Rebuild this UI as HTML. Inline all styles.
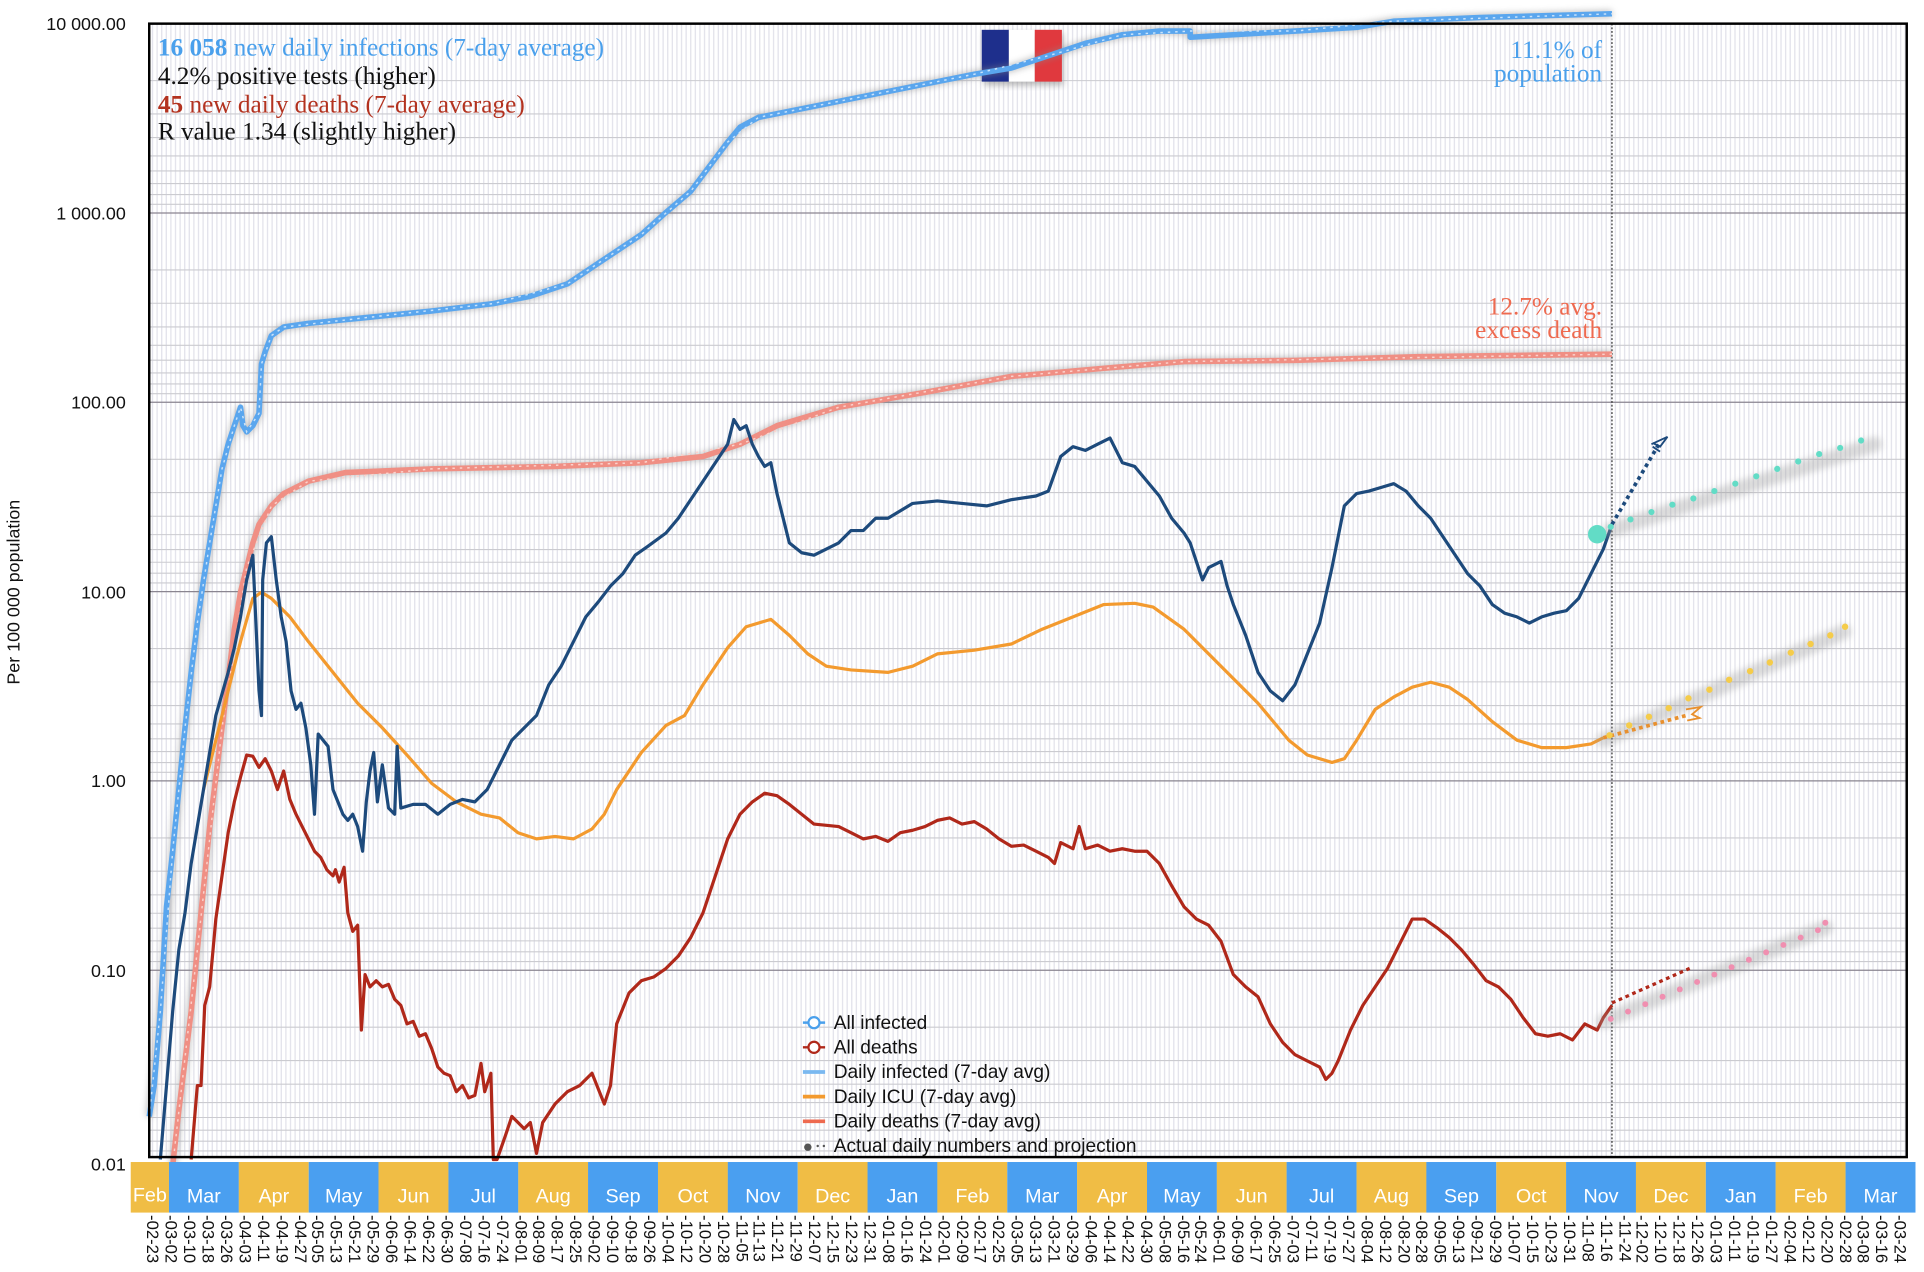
<!DOCTYPE html>
<html><head><meta charset="utf-8"><style>
html,body{margin:0;padding:0;background:#fff;}
svg{display:block;}
.ax{font-family:"Liberation Sans",sans-serif;font-size:14.5px;fill:#111;}
.dt{font-family:"Liberation Sans",sans-serif;font-size:13.5px;fill:#111;}
.mo{font-family:"Liberation Sans",sans-serif;font-size:16px;fill:#fff;text-anchor:middle;}
.sr{font-family:"Liberation Serif",serif;font-size:20.5px;}
.lg{font-family:"Liberation Sans",sans-serif;font-size:15.5px;fill:#111;}
</style></head><body>
<svg width="1924" height="1272" viewBox="0 0 1560 1031" xmlns="http://www.w3.org/2000/svg">
<defs>
<pattern id="vg" width="3.73" height="10" patternUnits="userSpaceOnUse"><rect width="3.73" height="10" fill="#fff"/><rect width="1.1" height="10" fill="#e4e4ec"/></pattern>
<filter id="sh" x="-10%" y="-10%" width="120%" height="120%"><feGaussianBlur stdDeviation="2.5"/></filter>
</defs>
<rect x="121" y="19" width="1425" height="919" fill="url(#vg)"/>
<g stroke="#cbcbd0" stroke-width="0.9">
<line x1="121" x2="1546" y1="65.2" y2="65.2"/><line x1="121" x2="1546" y1="92.2" y2="92.2"/><line x1="121" x2="1546" y1="111.4" y2="111.4"/><line x1="121" x2="1546" y1="126.3" y2="126.3"/><line x1="121" x2="1546" y1="138.4" y2="138.4"/><line x1="121" x2="1546" y1="148.7" y2="148.7"/><line x1="121" x2="1546" y1="157.6" y2="157.6"/><line x1="121" x2="1546" y1="165.5" y2="165.5"/>
<line x1="121" x2="1546" y1="218.7" y2="218.7"/><line x1="121" x2="1546" y1="245.7" y2="245.7"/><line x1="121" x2="1546" y1="264.9" y2="264.9"/><line x1="121" x2="1546" y1="279.8" y2="279.8"/><line x1="121" x2="1546" y1="291.9" y2="291.9"/><line x1="121" x2="1546" y1="302.2" y2="302.2"/><line x1="121" x2="1546" y1="311.1" y2="311.1"/><line x1="121" x2="1546" y1="319" y2="319"/>
<line x1="121" x2="1546" y1="372.2" y2="372.2"/><line x1="121" x2="1546" y1="399.2" y2="399.2"/><line x1="121" x2="1546" y1="418.4" y2="418.4"/><line x1="121" x2="1546" y1="433.3" y2="433.3"/><line x1="121" x2="1546" y1="445.4" y2="445.4"/><line x1="121" x2="1546" y1="455.7" y2="455.7"/><line x1="121" x2="1546" y1="464.6" y2="464.6"/><line x1="121" x2="1546" y1="472.5" y2="472.5"/>
<line x1="121" x2="1546" y1="525.7" y2="525.7"/><line x1="121" x2="1546" y1="552.7" y2="552.7"/><line x1="121" x2="1546" y1="571.9" y2="571.9"/><line x1="121" x2="1546" y1="586.8" y2="586.8"/><line x1="121" x2="1546" y1="598.9" y2="598.9"/><line x1="121" x2="1546" y1="609.2" y2="609.2"/><line x1="121" x2="1546" y1="618.1" y2="618.1"/><line x1="121" x2="1546" y1="626" y2="626"/>
<line x1="121" x2="1546" y1="679.2" y2="679.2"/><line x1="121" x2="1546" y1="706.2" y2="706.2"/><line x1="121" x2="1546" y1="725.4" y2="725.4"/><line x1="121" x2="1546" y1="740.3" y2="740.3"/><line x1="121" x2="1546" y1="752.4" y2="752.4"/><line x1="121" x2="1546" y1="762.7" y2="762.7"/><line x1="121" x2="1546" y1="771.6" y2="771.6"/><line x1="121" x2="1546" y1="779.5" y2="779.5"/>
<line x1="121" x2="1546" y1="832.7" y2="832.7"/><line x1="121" x2="1546" y1="859.7" y2="859.7"/><line x1="121" x2="1546" y1="878.9" y2="878.9"/><line x1="121" x2="1546" y1="893.8" y2="893.8"/><line x1="121" x2="1546" y1="905.9" y2="905.9"/><line x1="121" x2="1546" y1="916.2" y2="916.2"/><line x1="121" x2="1546" y1="925.1" y2="925.1"/><line x1="121" x2="1546" y1="933" y2="933"/>
</g>
<g stroke="#8a8590" stroke-width="1">
<line x1="121" x2="1546" y1="172.5" y2="172.5"/><line x1="121" x2="1546" y1="326" y2="326"/><line x1="121" x2="1546" y1="479.5" y2="479.5"/><line x1="121" x2="1546" y1="633" y2="633"/><line x1="121" x2="1546" y1="786.5" y2="786.5"/>
</g>
<line x1="1307" y1="19" x2="1307" y2="938" stroke="#333" stroke-width="1" stroke-dasharray="1.5,1.5"/>

<g class="ax" text-anchor="end">
<text x="102" y="24">10 000.00</text><text x="102" y="178">1 000.00</text><text x="102" y="331">100.00</text><text x="102" y="485">10.00</text><text x="102" y="638">1.00</text><text x="102" y="792">0.10</text><text x="102" y="949">0.01</text>
</g>
<text class="ax" transform="translate(16,480) rotate(-90)" text-anchor="middle" font-size="13.5">Per 100 000 population</text>

<text class="sr" x="128" y="45" fill="#4aa0ec"><tspan font-weight="bold">16 058</tspan> new daily infections (7-day average)</text>
<text class="sr" x="128" y="68" fill="#111">4.2% positive tests (higher)</text>
<text class="sr" x="128" y="91" fill="#b3321f"><tspan font-weight="bold">45</tspan> new daily deaths (7-day average)</text>
<text class="sr" x="128" y="113" fill="#111">R value 1.34 (slightly higher)</text>
<text class="sr" x="1299" y="47" fill="#4aa0ec" text-anchor="end" font-size="18">11.1% of</text>
<text class="sr" x="1299" y="66" fill="#4aa0ec" text-anchor="end" font-size="18">population</text>
<text class="sr" x="1299" y="255" fill="#ee6a50" text-anchor="end" font-size="18">12.7% avg.</text>
<text class="sr" x="1299" y="274" fill="#ee6a50" text-anchor="end" font-size="18">excess death</text>

<rect x="798" y="27" width="64" height="42" fill="#888" filter="url(#sh)" opacity="0.6"/>
<rect x="796" y="24" width="22" height="42" fill="#1e2f8c"/><rect x="818" y="24" width="21" height="42" fill="#fff"/><rect x="839" y="24" width="22" height="42" fill="#e0393e"/>

<polyline fill="none" stroke="#888" stroke-width="6" opacity="0.5" filter="url(#sh)" points="121,905 130,820 140,690 150,590 160,505 170,440 180,380 190,345 195,330 197,345 200,350 205,345 210,335 212,295 215,285 220,272 230,265 250,262 300,257 350,252 400,246 430,240 460,230 490,210 520,190 540,172 560,155 575,135 590,115 600,103 615,95 640,90 700,78 750,68 790,60 820,55 850,45 880,35 910,28 940,25 965,25 965,30 1000,28 1050,25 1100,22 1130,17 1200,14 1307,11"/>
<polyline fill="none" stroke="#5aa6ee" stroke-width="4.5" stroke-linejoin="round" points="121,905 125,880 130,820 135,735 140,690 145,640 150,590 155,545 160,505 165,470 170,440 175,410 180,380 185,360 190,345 195,330 197,345 200,350 205,345 210,335 212,295 215,285 220,272 230,265 250,262 270,260 300,257 350,252 400,246 430,240 460,230 490,210 520,190 540,172 560,155 575,135 590,115 600,103 615,95 640,90 700,78 750,68 790,60 820,55 850,45 880,35 910,28 940,25 965,25 965,30 1000,28 1050,25 1100,22 1130,17 1200,14 1307,11"/>
<polyline fill="none" stroke="#c9e3fb" stroke-width="1.2" stroke-dasharray="2,4" points="121,905 130,820 140,690 150,590 160,505 170,440 180,380 190,345 195,330 200,350 210,335 212,295 220,272 230,265 300,257 400,246 460,230 520,190 560,155 590,115 615,95 700,78 790,60 850,45 910,28 965,25 1050,25 1130,17 1307,11"/>

<polyline fill="none" stroke="#888" stroke-width="6" opacity="0.5" filter="url(#sh)" points="140,945 150,860 160,770 170,670 180,590 190,510 200,460 210,425 220,410 230,400 250,390 280,383 350,380 450,378 520,375 570,370 600,360 630,345 680,330 750,318 820,305 900,298 960,293 1050,292 1150,289 1307,287"/>
<polyline fill="none" stroke="#f08f84" stroke-width="4.5" stroke-linejoin="round" points="140,945 145,900 150,860 155,820 160,770 165,720 170,670 175,630 180,590 185,550 190,510 195,480 200,460 205,440 210,425 220,410 230,400 250,390 280,383 350,380 450,378 520,375 570,370 600,360 630,345 680,330 750,318 820,305 900,298 960,293 1050,292 1150,289 1307,287"/>
<polyline fill="none" stroke="#fbd2cc" stroke-width="1.2" stroke-dasharray="2,4" points="140,945 160,770 180,590 200,460 220,410 250,390 350,380 520,375 600,360 680,330 820,305 960,293 1307,287"/>

<polyline fill="none" stroke="#f39a2e" stroke-width="2.6" stroke-linejoin="round" points="165,640 175,600 185,560 195,520 205,485 212,480 220,485 235,500 250,520 270,545 290,570 310,590 330,612 350,635 370,650 390,660 405,663 420,675 435,680 450,678 465,680 480,672 490,660 500,640 520,610 540,588 555,580 570,555 590,525 605,508 625,502 640,515 655,530 670,540 690,543 720,545 740,540 760,530 790,527 820,522 845,510 870,500 895,490 920,489 935,492 960,510 990,540 1020,570 1045,600 1060,612 1080,618 1090,615 1100,600 1115,575 1130,565 1145,557 1160,553 1175,557 1190,567 1210,585 1230,600 1250,606 1270,606 1290,603 1300,598"/>

<polyline fill="none" stroke="#1d4a7c" stroke-width="2.6" stroke-linejoin="round" points="130,940 135,880 140,820 145,770 150,740 155,700 165,640 175,580 185,545 190,525 195,500 200,470 205,450 210,560 212,580 213,470 216,440 220,435 224,470 228,500 232,520 236,560 240,575 244,570 248,590 252,620 255,660 258,595 262,600 266,605 270,640 274,650 278,660 282,665 286,660 290,670 294,690 297,650 300,625 303,610 306,650 310,620 315,655 320,660 322,605 325,655 335,652 345,652 355,660 365,652 375,648 385,650 395,640 405,620 415,600 425,590 435,580 445,555 455,540 465,520 475,500 485,488 495,475 505,465 515,450 525,443 540,432 550,420 560,405 570,390 580,375 590,360 595,340 600,348 605,345 610,360 615,370 620,378 625,375 630,400 635,420 640,440 650,448 660,450 670,445 680,440 690,430 700,430 710,420 720,420 740,408 760,406 780,408 800,410 820,405 840,402 850,398 860,370 870,362 880,365 890,360 900,355 910,375 920,378 930,390 940,402 950,420 960,432 965,440 970,455 975,470 980,460 990,455 995,475 1000,490 1010,515 1020,545 1030,560 1040,568 1050,555 1060,530 1070,505 1080,460 1090,410 1100,400 1110,398 1120,395 1130,392 1140,398 1150,410 1160,420 1170,435 1180,450 1190,465 1200,475 1210,490 1220,497 1230,500 1240,505 1250,500 1260,497 1270,495 1280,485 1290,465 1300,445 1307,425"/>

<polyline fill="none" stroke="#b0281a" stroke-width="2.6" stroke-linejoin="round" points="155,940 160,880 163,880 166,815 170,800 175,745 180,710 185,675 190,650 195,630 200,612 205,613 210,622 215,615 220,625 225,640 230,625 235,648 240,660 245,670 250,680 255,690 260,695 265,705 270,710 272,705 275,715 279,703 282,740 286,755 290,750 293,835 296,790 300,800 305,795 310,800 315,798 320,810 325,815 330,830 335,828 340,840 345,838 350,850 355,865 360,870 365,872 370,885 375,880 380,890 385,888 390,862 393,885 398,870 400,940 403,940 410,920 415,905 420,910 425,915 430,910 435,935 440,910 450,895 460,885 470,880 480,870 490,895 495,880 500,830 510,805 520,795 530,792 540,785 550,775 560,760 570,740 580,710 590,680 600,660 610,650 620,643 630,645 640,652 650,660 660,668 680,670 690,675 700,680 710,678 720,682 730,675 740,673 750,670 760,665 770,663 780,668 790,666 800,672 810,680 820,686 830,685 840,690 850,695 855,700 860,683 870,688 875,670 880,688 890,685 900,690 910,688 920,690 930,690 940,700 950,718 960,735 970,745 980,750 990,763 1000,790 1010,800 1020,808 1030,830 1040,845 1050,855 1060,860 1070,865 1075,875 1080,870 1085,860 1095,835 1105,815 1115,800 1125,785 1135,765 1145,745 1155,745 1165,752 1175,760 1185,770 1195,782 1205,795 1215,800 1225,810 1235,825 1245,838 1255,840 1265,838 1275,843 1285,830 1295,835 1300,825 1307,815"/>

<g filter="url(#sh)" opacity="0.35" stroke="#999" stroke-width="12" stroke-linecap="round">
<line x1="1305" y1="430" x2="1520" y2="360"/><line x1="1300" y1="600" x2="1495" y2="512"/><line x1="1300" y1="828" x2="1480" y2="752"/>
</g>
<circle cx="1295" cy="433" r="7.5" fill="#62dcc6"/>
<line x1="1307" y1="425" x2="1345" y2="360" stroke="#1d4a7c" stroke-width="3" stroke-dasharray="3,3"/>
<path d="M1339 360 l13 -6 l-6 8 l-6 -3 M1340 362 l6 4" stroke="#1d4a7c" stroke-width="1.5" fill="none"/>
<g fill="#62dcc6">
<circle cx="1306" cy="427" r="2.5"/><circle cx="1322" cy="421" r="2.5"/><circle cx="1339" cy="415" r="2.5"/><circle cx="1356" cy="409" r="2.5"/><circle cx="1373" cy="404" r="2.5"/><circle cx="1390" cy="398" r="2.5"/><circle cx="1407" cy="392" r="2.5"/><circle cx="1424" cy="386" r="2.5"/><circle cx="1441" cy="380" r="2.5"/><circle cx="1458" cy="374" r="2.5"/><circle cx="1475" cy="368" r="2.5"/><circle cx="1492" cy="363" r="2.5"/><circle cx="1509" cy="357" r="2.5"/>
</g>
<line x1="1300" y1="598" x2="1367" y2="580" stroke="#e8902e" stroke-width="3" stroke-dasharray="3,3"/>
<path d="M1367 575 l12 -2 l-7 6 l6 3 l-10 2" stroke="#e8902e" stroke-width="1.5" fill="none"/>
<g fill="#f5cc4a">
<circle cx="1305" cy="596" r="2.6"/><circle cx="1321" cy="588" r="2.6"/><circle cx="1337" cy="581" r="2.6"/><circle cx="1353" cy="574" r="2.6"/><circle cx="1369" cy="566" r="2.6"/><circle cx="1386" cy="559" r="2.6"/><circle cx="1402" cy="551" r="2.6"/><circle cx="1419" cy="544" r="2.6"/><circle cx="1435" cy="537" r="2.6"/><circle cx="1452" cy="529" r="2.6"/><circle cx="1468" cy="522" r="2.6"/><circle cx="1484" cy="515" r="2.6"/><circle cx="1496" cy="508" r="2.6"/>
</g>
<line x1="1307" y1="813" x2="1370" y2="785" stroke="#b0281a" stroke-width="2.6" stroke-dasharray="3,3"/>
<g fill="#f08fb0">
<circle cx="1306" cy="826" r="2.4"/><circle cx="1320" cy="820" r="2.4"/><circle cx="1334" cy="814" r="2.4"/><circle cx="1348" cy="808" r="2.4"/><circle cx="1362" cy="802" r="2.4"/><circle cx="1376" cy="796" r="2.4"/><circle cx="1390" cy="790" r="2.4"/><circle cx="1404" cy="784" r="2.4"/><circle cx="1418" cy="778" r="2.4"/><circle cx="1432" cy="772" r="2.4"/><circle cx="1446" cy="766" r="2.4"/><circle cx="1460" cy="760" r="2.4"/><circle cx="1474" cy="754" r="2.4"/><circle cx="1480" cy="748" r="2.4"/>
</g>

<g>
<line x1="651" y1="829" x2="669" y2="829" stroke="#4aa0ec" stroke-width="2"/><circle cx="660" cy="829" r="4.5" fill="#fff" stroke="#4aa0ec" stroke-width="1.8"/>
<line x1="651" y1="849" x2="669" y2="849" stroke="#b0281a" stroke-width="2"/><circle cx="660" cy="849" r="4.5" fill="#fff" stroke="#b0281a" stroke-width="1.8"/>
<line x1="651" y1="869" x2="669" y2="869" stroke="#7ab8f0" stroke-width="3"/>
<line x1="651" y1="889" x2="669" y2="889" stroke="#f39a2e" stroke-width="3"/>
<line x1="651" y1="909" x2="669" y2="909" stroke="#ee6a50" stroke-width="3"/>
<circle cx="655" cy="930" r="3" fill="#555"/><circle cx="663" cy="929" r="1" fill="#555"/><circle cx="668" cy="929" r="1" fill="#555"/>
<text class="lg" x="676" y="834">All infected</text>
<text class="lg" x="676" y="854">All deaths</text>
<text class="lg" x="676" y="874">Daily infected (7-day avg)</text>
<text class="lg" x="676" y="894">Daily ICU (7-day avg)</text>
<text class="lg" x="676" y="914">Daily deaths (7-day avg)</text>
<text class="lg" x="676" y="934">Actual daily numbers and projection</text>
</g>

<rect x="121" y="19" width="1425" height="919" fill="none" stroke="#000" stroke-width="2"/>

<g>
<rect x="106" y="942" width="31" height="41" fill="#f0bd45"/>
<rect x="137" y="942" width="56.7" height="41" fill="#4a9ff0"/><rect x="193.6" y="942" width="56.7" height="41" fill="#f0bd45"/><rect x="250.3" y="942" width="56.7" height="41" fill="#4a9ff0"/><rect x="306.9" y="942" width="56.7" height="41" fill="#f0bd45"/><rect x="363.6" y="942" width="56.7" height="41" fill="#4a9ff0"/><rect x="420.2" y="942" width="56.7" height="41" fill="#f0bd45"/><rect x="476.8" y="942" width="56.7" height="41" fill="#4a9ff0"/><rect x="533.5" y="942" width="56.7" height="41" fill="#f0bd45"/><rect x="590.1" y="942" width="56.7" height="41" fill="#4a9ff0"/><rect x="646.8" y="942" width="56.7" height="41" fill="#f0bd45"/><rect x="703.4" y="942" width="56.7" height="41" fill="#4a9ff0"/><rect x="760" y="942" width="56.7" height="41" fill="#f0bd45"/><rect x="816.7" y="942" width="56.7" height="41" fill="#4a9ff0"/><rect x="873.3" y="942" width="56.7" height="41" fill="#f0bd45"/><rect x="930" y="942" width="56.7" height="41" fill="#4a9ff0"/><rect x="986.6" y="942" width="56.7" height="41" fill="#f0bd45"/><rect x="1043.2" y="942" width="56.7" height="41" fill="#4a9ff0"/><rect x="1099.9" y="942" width="56.7" height="41" fill="#f0bd45"/><rect x="1156.5" y="942" width="56.7" height="41" fill="#4a9ff0"/><rect x="1213.2" y="942" width="56.7" height="41" fill="#f0bd45"/><rect x="1269.8" y="942" width="56.7" height="41" fill="#4a9ff0"/><rect x="1326.4" y="942" width="56.7" height="41" fill="#f0bd45"/><rect x="1383.1" y="942" width="56.7" height="41" fill="#4a9ff0"/><rect x="1439.7" y="942" width="56.7" height="41" fill="#f0bd45"/><rect x="1496.4" y="942" width="56.7" height="41" fill="#4a9ff0"/>
<text class="mo" x="121.5" y="974" font-size="11">Feb</text>
<text class="mo" x="165.3" y="975">Mar</text><text class="mo" x="222" y="975">Apr</text><text class="mo" x="278.6" y="975">May</text><text class="mo" x="335.3" y="975">Jun</text><text class="mo" x="391.9" y="975">Jul</text><text class="mo" x="448.5" y="975">Aug</text><text class="mo" x="505.2" y="975">Sep</text><text class="mo" x="561.8" y="975">Oct</text><text class="mo" x="618.5" y="975">Nov</text><text class="mo" x="675.1" y="975">Dec</text><text class="mo" x="731.7" y="975">Jan</text><text class="mo" x="788.4" y="975">Feb</text><text class="mo" x="845" y="975">Mar</text><text class="mo" x="901.7" y="975">Apr</text><text class="mo" x="958.3" y="975">May</text><text class="mo" x="1014.9" y="975">Jun</text><text class="mo" x="1071.6" y="975">Jul</text><text class="mo" x="1128.2" y="975">Aug</text><text class="mo" x="1184.9" y="975">Sep</text><text class="mo" x="1241.5" y="975">Oct</text><text class="mo" x="1298.1" y="975">Nov</text><text class="mo" x="1354.8" y="975">Dec</text><text class="mo" x="1411.4" y="975">Jan</text><text class="mo" x="1468.1" y="975">Feb</text><text class="mo" x="1524.7" y="975">Mar</text>
</g>

<g class="dt">
<text transform="translate(119,985) rotate(90)">-02-23</text><text transform="translate(134,985) rotate(90)">-03-02</text><text transform="translate(149,985) rotate(90)">-03-10</text><text transform="translate(164,985) rotate(90)">-03-18</text><text transform="translate(179,985) rotate(90)">-03-26</text><text transform="translate(194,985) rotate(90)">-04-03</text><text transform="translate(209,985) rotate(90)">-04-11</text><text transform="translate(224,985) rotate(90)">-04-19</text><text transform="translate(239,985) rotate(90)">-04-27</text><text transform="translate(253,985) rotate(90)">-05-05</text><text transform="translate(268,985) rotate(90)">-05-13</text><text transform="translate(283,985) rotate(90)">-05-21</text><text transform="translate(298,985) rotate(90)">-05-29</text><text transform="translate(313,985) rotate(90)">-06-06</text><text transform="translate(328,985) rotate(90)">-06-14</text><text transform="translate(343,985) rotate(90)">-06-22</text><text transform="translate(358,985) rotate(90)">-06-30</text><text transform="translate(373,985) rotate(90)">-07-08</text><text transform="translate(388,985) rotate(90)">-07-16</text><text transform="translate(403,985) rotate(90)">-07-24</text><text transform="translate(418,985) rotate(90)">-08-01</text><text transform="translate(432,985) rotate(90)">-08-09</text><text transform="translate(447,985) rotate(90)">-08-17</text><text transform="translate(462,985) rotate(90)">-08-25</text><text transform="translate(477,985) rotate(90)">-09-02</text><text transform="translate(492,985) rotate(90)">-09-10</text><text transform="translate(507,985) rotate(90)">-09-18</text><text transform="translate(522,985) rotate(90)">-09-26</text><text transform="translate(537,985) rotate(90)">-10-04</text><text transform="translate(552,985) rotate(90)">-10-12</text><text transform="translate(567,985) rotate(90)">-10-20</text><text transform="translate(582,985) rotate(90)">-10-28</text><text transform="translate(597,985) rotate(90)">-11-05</text><text transform="translate(611,985) rotate(90)">-11-13</text><text transform="translate(626,985) rotate(90)">-11-21</text><text transform="translate(641,985) rotate(90)">-11-29</text><text transform="translate(656,985) rotate(90)">-12-07</text><text transform="translate(671,985) rotate(90)">-12-15</text><text transform="translate(686,985) rotate(90)">-12-23</text><text transform="translate(701,985) rotate(90)">-12-31</text><text transform="translate(716,985) rotate(90)">-01-08</text><text transform="translate(731,985) rotate(90)">-01-16</text><text transform="translate(746,985) rotate(90)">-01-24</text><text transform="translate(761,985) rotate(90)">-02-01</text><text transform="translate(776,985) rotate(90)">-02-09</text><text transform="translate(790,985) rotate(90)">-02-17</text><text transform="translate(805,985) rotate(90)">-02-25</text><text transform="translate(820,985) rotate(90)">-03-05</text><text transform="translate(835,985) rotate(90)">-03-13</text><text transform="translate(850,985) rotate(90)">-03-21</text><text transform="translate(865,985) rotate(90)">-03-29</text><text transform="translate(880,985) rotate(90)">-04-06</text><text transform="translate(895,985) rotate(90)">-04-14</text><text transform="translate(910,985) rotate(90)">-04-22</text><text transform="translate(925,985) rotate(90)">-04-30</text><text transform="translate(940,985) rotate(90)">-05-08</text><text transform="translate(955,985) rotate(90)">-05-16</text><text transform="translate(969,985) rotate(90)">-05-24</text><text transform="translate(984,985) rotate(90)">-06-01</text><text transform="translate(999,985) rotate(90)">-06-09</text><text transform="translate(1014,985) rotate(90)">-06-17</text><text transform="translate(1029,985) rotate(90)">-06-25</text><text transform="translate(1044,985) rotate(90)">-07-03</text><text transform="translate(1059,985) rotate(90)">-07-11</text><text transform="translate(1074,985) rotate(90)">-07-19</text><text transform="translate(1089,985) rotate(90)">-07-27</text><text transform="translate(1104,985) rotate(90)">-08-04</text><text transform="translate(1119,985) rotate(90)">-08-12</text><text transform="translate(1134,985) rotate(90)">-08-20</text><text transform="translate(1148,985) rotate(90)">-08-28</text><text transform="translate(1163,985) rotate(90)">-09-05</text><text transform="translate(1178,985) rotate(90)">-09-13</text><text transform="translate(1193,985) rotate(90)">-09-21</text><text transform="translate(1208,985) rotate(90)">-09-29</text><text transform="translate(1223,985) rotate(90)">-10-07</text><text transform="translate(1238,985) rotate(90)">-10-15</text><text transform="translate(1253,985) rotate(90)">-10-23</text><text transform="translate(1268,985) rotate(90)">-10-31</text><text transform="translate(1283,985) rotate(90)">-11-08</text><text transform="translate(1298,985) rotate(90)">-11-16</text><text transform="translate(1313,985) rotate(90)">-11-24</text><text transform="translate(1327,985) rotate(90)">-12-02</text><text transform="translate(1342,985) rotate(90)">-12-10</text><text transform="translate(1357,985) rotate(90)">-12-18</text><text transform="translate(1372,985) rotate(90)">-12-26</text><text transform="translate(1387,985) rotate(90)">-01-03</text><text transform="translate(1402,985) rotate(90)">-01-11</text><text transform="translate(1417,985) rotate(90)">-01-19</text><text transform="translate(1432,985) rotate(90)">-01-27</text><text transform="translate(1447,985) rotate(90)">-02-04</text><text transform="translate(1462,985) rotate(90)">-02-12</text><text transform="translate(1477,985) rotate(90)">-02-20</text><text transform="translate(1492,985) rotate(90)">-02-28</text><text transform="translate(1506,985) rotate(90)">-03-08</text><text transform="translate(1521,985) rotate(90)">-03-16</text><text transform="translate(1536,985) rotate(90)">-03-24</text>
</g>
</svg>
</body></html>
